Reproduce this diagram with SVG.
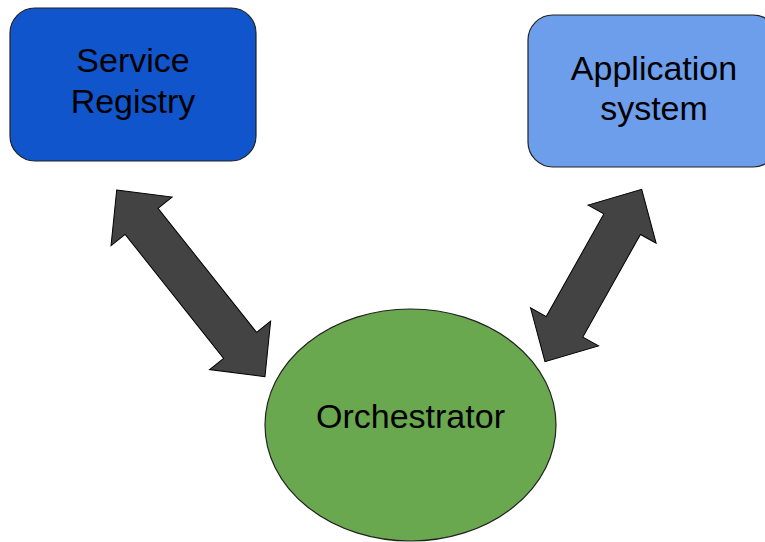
<svg xmlns="http://www.w3.org/2000/svg" width="765" height="542" viewBox="0 0 765 542">
  <style>
    .label { font-family: "Liberation Sans", Arial, sans-serif; font-size: 34px; fill: #000; text-anchor: middle; }
    .box { stroke: #222; stroke-width: 1.2; }
    .link { fill: #434343; stroke: #000; stroke-width: 1; stroke-linejoin: miter; }
  </style>
  <rect width="765" height="542" fill="#fff"/>

  <!-- double-headed block arrows between the nodes -->
  <g id="connectors">
    <!-- registry <-> orchestrator, length 238 -->
    <path class="link" transform="translate(116.7,190) rotate(51.54)"
          d="M0,0 L40,-39 L40,-21 L198.4,-21 L198.4,-39 L238.4,0 L198.4,39 L198.4,21 L40,21 L40,39 Z"/>
    <!-- application <-> orchestrator, length 198 -->
    <path class="link" transform="translate(641.7,189.3) rotate(119.29)"
          d="M0,0 L40,-39 L40,-21 L157.7,-21 L157.7,-39 L197.7,0 L157.7,39 L157.7,21 L40,21 L40,39 Z"/>
  </g>

  <g id="service-registry">
    <rect class="box" x="10" y="8" width="246" height="153" rx="25" fill="#1155cc"/>
    <text class="label" x="133" y="72">Service</text>
    <text class="label" x="133" y="113">Registry</text>
  </g>

  <g id="application-system">
    <rect class="box" x="528" y="15" width="250" height="152" rx="25" fill="#6d9eeb"/>
    <text class="label" x="654" y="80">Application</text>
    <text class="label" x="654" y="120">system</text>
  </g>

  <g id="orchestrator">
    <ellipse class="box" cx="410.5" cy="425" rx="145.5" ry="116" fill="#6aa84f"/>
    <text class="label" x="410.5" y="428">Orchestrator</text>
  </g>
</svg>
